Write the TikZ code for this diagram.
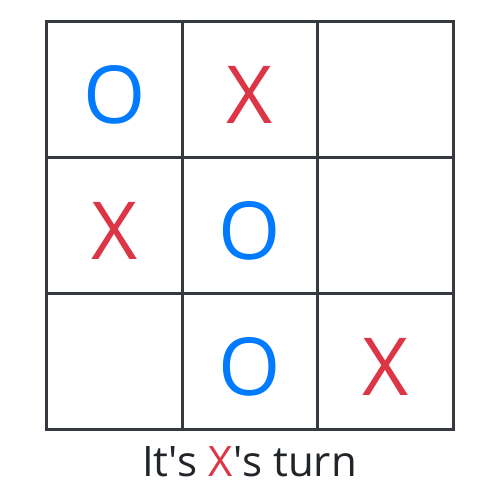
\documentclass[tikz,border=0pt]{standalone}
\usepackage{fontspec}
\setmainfont{Open Sans}
\usetikzlibrary{positioning}
\definecolor{gridgray}{HTML}{343A40}
\definecolor{oblue}{HTML}{007BFF}
\definecolor{xred}{HTML}{DC3545}
\definecolor{textdark}{HTML}{212529}

\begin{document}
\begin{tikzpicture}[
  x=1pt, y=-1pt,
  cell/.style={draw=gridgray, line width=3pt, minimum width=135.7pt, minimum height=136.3pt, inner sep=0pt},
  omark/.style={text=oblue, font=\fontsize{80}{80}\selectfont, anchor=base, inner sep=0pt},
  xmark/.style={text=xred, font=\fontsize{80}{80}\selectfont, anchor=base, inner sep=0pt},
  status/.style={text=textdark, font=\fontsize{42}{42}\selectfont, anchor=base, inner sep=0pt}
]
\useasboundingbox (0,0) rectangle (503,488);

% board
\foreach \row/\cy in {1/89.2, 2/225.5, 3/361.8}
  \foreach \col/\cx in {1/114.35, 2/250.05, 3/385.75}
    \node[cell] (c\row\col) at (\cx,\cy) {};

% marks
\node[omark] (m11) at (114.35,123.2) {O};
\node[xmark] (m12) at (250.05,123.2) {X};
\node[xmark] (m21) at (114.35,259.5) {X};
\node[omark] (m22) at (250.05,259.5) {O};
\node[omark] (m32) at (250.05,395.8) {O};
\node[xmark] (m33) at (385.75,395.8) {X};

% turn text
\node[status] (turn) at (249.5,476) {It\textquotesingle s {\color{xred}X}\textquotesingle s turn};
\end{tikzpicture}
\end{document}
